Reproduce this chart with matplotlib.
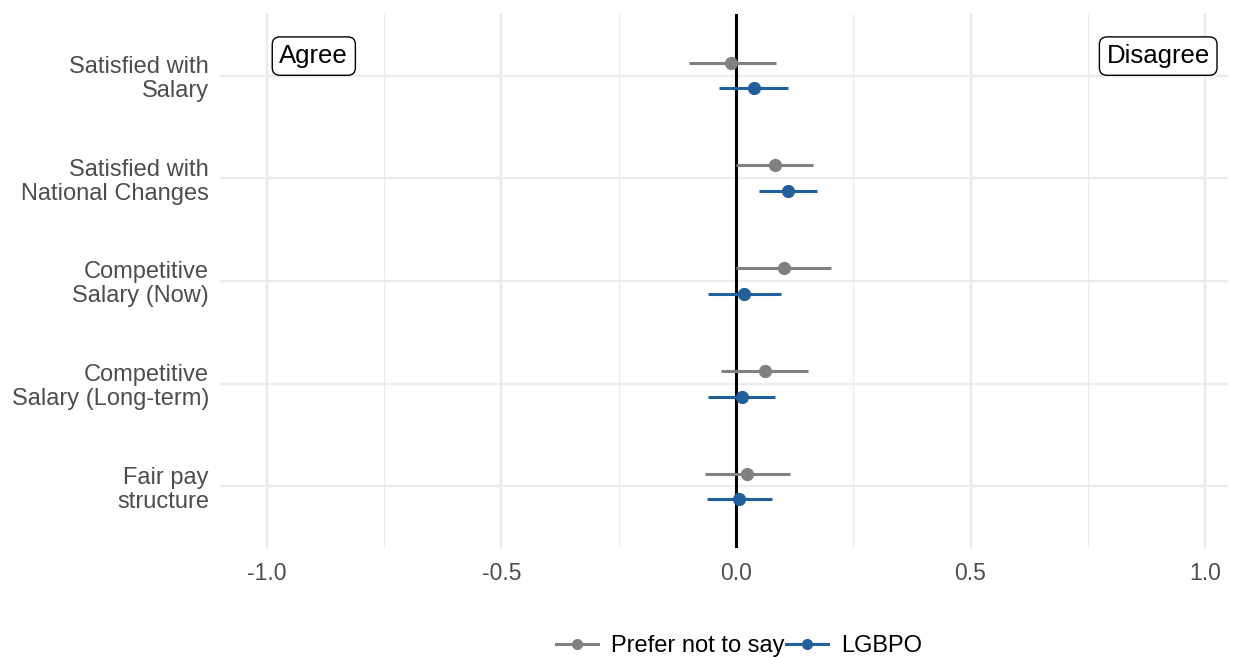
import matplotlib
matplotlib.use("Agg")
import matplotlib.pyplot as plt
import numpy as np
from matplotlib.lines import Line2D
from matplotlib.ticker import MultipleLocator

plt.rcParams['font.family'] = ['Liberation Sans', 'DejaVu Sans']

# Survey items (top to bottom) and estimates with confidence intervals
items = ["Satisfied with\nSalary",
         "Satisfied with\nNational Changes",
         "Competitive\nSalary (Now)",
         "Competitive\nSalary (Long-term)",
         "Fair pay\nstructure"]

groups = ["Prefer not to say", "LGBPO"]
colors = ["#808080", "#21609B"]

prefer_est = [-0.010, 0.083, 0.102, 0.061, 0.024]
prefer_lo = [-0.101, 0.000, 0.000, -0.033, -0.066]
prefer_hi = [0.085, 0.165, 0.203, 0.154, 0.115]

lgbpo_est = [0.038, 0.110, 0.018, 0.012, 0.007]
lgbpo_lo = [-0.036, 0.050, -0.060, -0.060, -0.062]
lgbpo_hi = [0.111, 0.172, 0.095, 0.084, 0.076]

series = [(prefer_est, prefer_lo, prefer_hi), (lgbpo_est, lgbpo_lo, lgbpo_hi)]
offsets = [0.125, -0.125]

fig = plt.figure(figsize=(12.38, 6.57), dpi=100)
ax = fig.add_axes([0.1777, 0.1659, 0.8143, 0.8128])

n = len(items)
ypos = np.arange(n)[::-1]

# grid
ax.set_xlim(-1.10, 1.049)
ax.set_ylim(-0.6, n - 1 + 0.6)
ax.xaxis.set_major_locator(MultipleLocator(0.5))
ax.xaxis.set_minor_locator(MultipleLocator(0.25))
ax.grid(axis='x', which='major', color='#EBEBEB', linewidth=1.6, zorder=0)
ax.grid(axis='x', which='minor', color='#EBEBEB', linewidth=0.8, zorder=0)
ax.set_yticks(ypos)
ax.set_yticklabels(items, fontsize=17, color='#4D4D4D', linespacing=1.1)
ax.grid(axis='y', which='major', color='#EBEBEB', linewidth=1.6, zorder=0)
ax.set_xticks([-1.0, -0.5, 0.0, 0.5, 1.0])
ax.set_xticklabels(["-1.0", "-0.5", "0.0", "0.5", "1.0"], fontsize=16.5, color='#4D4D4D')
ax.tick_params(axis='x', which='both', length=0, pad=10)
ax.tick_params(axis='y', which='both', length=0, pad=8)
for s in ax.spines.values():
    s.set_visible(False)

ax.axvline(0, color='black', linewidth=2.2, zorder=2)

for (est, lo, hi), off, col in zip(series, offsets, colors):
    y = ypos + off
    est = np.array(est)
    ax.errorbar(est, y, xerr=[est - np.array(lo), np.array(hi) - est],
                fmt='o', color=col, ecolor=col, elinewidth=2.2, capsize=0,
                markersize=8.5, zorder=3)

box = dict(boxstyle='round,pad=0.28,rounding_size=0.3', facecolor='white',
           edgecolor='black', linewidth=1.0)
ax.text(-0.9, 4.19, "Agree", ha='center', va='center', fontsize=18.5,
        color='black', bbox=box, zorder=4)
ax.text(0.9, 4.19, "Disagree", ha='center', va='center', fontsize=18.5,
        color='black', bbox=box, zorder=4)

handles = [Line2D([0], [0], color=c, marker='o', linewidth=2.2, markersize=7)
           for c in colors]
fig.legend(handles, groups, loc='center', bbox_to_anchor=(0.597, 0.016),
           ncol=2, frameon=False, fontsize=17, handlelength=1.8,
           handletextpad=0.55, columnspacing=0.05, labelcolor='black')

fig.savefig("out.png", dpi=100)
